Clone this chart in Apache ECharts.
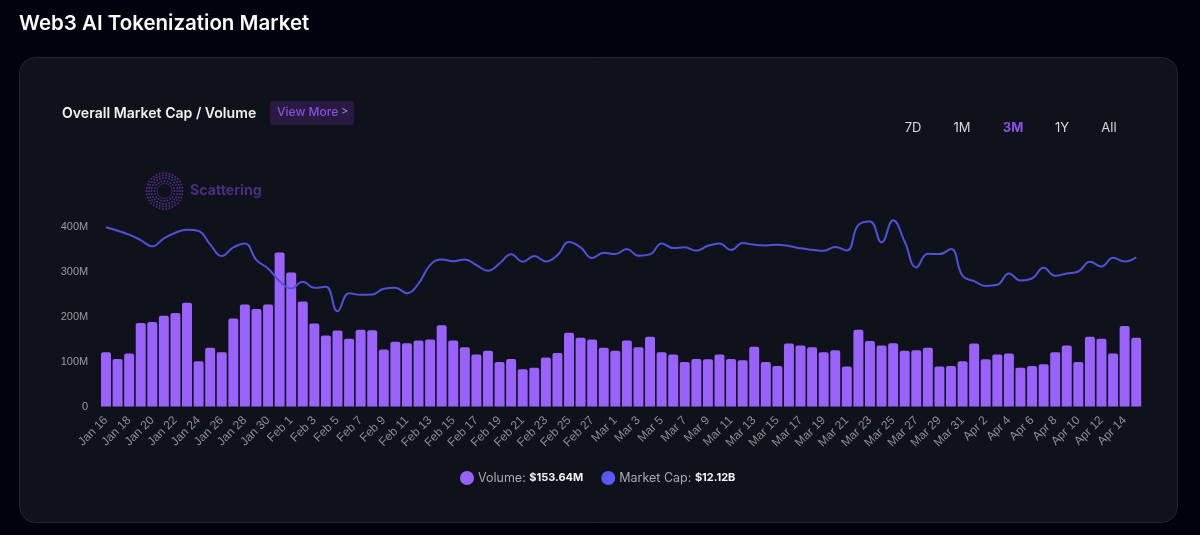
<!DOCTYPE html>
<html><head><meta charset="utf-8">
<style>html,body{margin:0;padding:0;background:#02020f}#c{width:1200px;height:535px}</style>
<script src="https://cdn.jsdelivr.net/npm/echarts@6/dist/echarts.min.js"></script>
</head><body><div id="c"></div>
<script>
const categories = ["Jan 16","Jan 17","Jan 18","Jan 19","Jan 20","Jan 21","Jan 22","Jan 23","Jan 24","Jan 25","Jan 26","Jan 27","Jan 28","Jan 29","Jan 30","Jan 31",
"Feb 1","Feb 2","Feb 3","Feb 4","Feb 5","Feb 6","Feb 7","Feb 8","Feb 9","Feb 10","Feb 11","Feb 12","Feb 13","Feb 14","Feb 15","Feb 16","Feb 17","Feb 18","Feb 19","Feb 20","Feb 21","Feb 22","Feb 23","Feb 24","Feb 25","Feb 26","Feb 27","Feb 28",
"Mar 1","Mar 2","Mar 3","Mar 4","Mar 5","Mar 6","Mar 7","Mar 8","Mar 9","Mar 10","Mar 11","Mar 12","Mar 13","Mar 14","Mar 15","Mar 16","Mar 17","Mar 18","Mar 19","Mar 20","Mar 21","Mar 22","Mar 23","Mar 24","Mar 25","Mar 26","Mar 27","Mar 28","Mar 29","Mar 30","Mar 31",
"Apr 1","Apr 2","Apr 3","Apr 4","Apr 5","Apr 6","Apr 7","Apr 8","Apr 9","Apr 10","Apr 11","Apr 12","Apr 13","Apr 14","Apr 15"];
// Volume in millions of USD
const volume = [121,106,118,186,188,202,208,231,101,131,121,196,227,217,227,343,
298,234,185,158,169,151,171,170,127,144,141,147,149,181,147,132,116,124,99,106,83,86,109,119,164,153,149,131,
124,147,132,155,121,116,99,106,105,116,106,103,133,99,90,140,136,132,121,125,89,171,146,136,141,124,125,131,89,90,101,
140,105,116,118,86,90,94,121,136,99,155,151,118,179,153];
// Market cap in billions of USD
const marketCap = [14.56,14.28,13.96,13.52,13.01,13.66,14.12,14.37,14.26,13.17,12.22,12.93,13.25,11.89,11.22,10.18,
9.59,10.13,9.64,9.72,7.74,9.21,9.07,9.10,9.56,9.64,9.21,9.99,11.49,11.95,11.81,11.95,11.49,11.03,11.62,12.36,11.76,12.22,11.79,12.30,13.36,12.93,12.06,12.49,
12.38,12.79,12.25,12.36,13.25,12.87,12.93,12.66,13.06,13.25,12.71,13.28,13.14,13.09,13.14,13.04,12.85,12.74,12.66,12.95,12.68,14.75,15.04,13.33,15.13,13.39,11.30,12.41,12.38,12.79,10.62,
10.18,9.80,9.89,10.81,10.24,10.40,11.27,10.62,10.81,10.97,11.76,11.38,12.08,11.79,12.12];
const volumeTicks = [0,100,200,300,400];
const rangeButtons = ["7D","1M","3M","1Y","All"];
const legendValues = {Volume:"$153.64M","Market Cap":"$12.12B"};

const FONT = "Inter, 'Noto Sans', sans-serif";
const graphics = [
 {type:'rect',z:-5,shape:{x:19.5,y:57.5,width:1158,height:465,r:16},style:{fill:'#10121b',stroke:'#25272f',lineWidth:1}},
 {type:'text',x:19,y:13,style:{text:'Web3 AI Tokenization Market',fill:'#fafafa',font:"600 20.5px "+FONT}},
 {type:'text',x:62,y:106.5,style:{text:'Overall Market Cap / Volume',fill:'#f0f0f0',font:"600 14.1px "+FONT}},
 {type:'rect',shape:{x:270,y:101,width:84,height:24,r:3},style:{fill:'#291a42'}},
 {type:'text',x:277,y:106.5,style:{text:'View More',fill:'#8a50e0',font:"500 12px "+FONT}},
 {type:'text',x:341,y:106.5,style:{text:'>',fill:'#a98ad8',font:"400 11px "+FONT}},
 {type:'text',x:190,y:184,style:{text:'Scattering',fill:'#4a2f80',font:"700 14.2px "+FONT}},
 {type:'circle',shape:{cx:164.5,cy:191,r:7.5},style:{fill:'none',stroke:'#4a2f80',lineWidth:0.8}}
];
const rangeX = [913,962,1013,1062,1109];
rangeButtons.forEach((t,i)=>graphics.push({type:'text',x:rangeX[i],y:128,style:{text:t,fill:t==='3M'?'#8a50e8':'#d8d8dc',align:'center',verticalAlign:'middle',font:(t==='3M'?'700 ':'400 ')+"13px "+FONT}}));
[[10,20],[13,26],[15.5,30],[18,34]].forEach(([r,n])=>{
  for(let k=0;k<n;k++){const a=k/n*Math.PI*2;
    graphics.push({type:'circle',shape:{cx:164.5+r*Math.cos(a),cy:191+r*Math.sin(a),r:1},style:{fill:'#4a2f80'}});}
});

const chart = echarts.init(document.getElementById('c'),null,{renderer:'canvas'});
chart.setOption({
 animation:false,
 backgroundColor:'transparent',
 graphic:graphics,
 grid:{left:100.2,right:58,top:226.8,height:179.7,containLabel:false},
 legend:{left:455,top:466,itemWidth:14,itemHeight:14,itemGap:18,icon:'circle',
   data:['Volume','Market Cap'],
   formatter:n=>`{l|${n}: }{v|${legendValues[n]}}`,
   textStyle:{rich:{l:{color:'#a8a8ae',fontSize:12.5,fontFamily:"Inter, 'Liberation Sans', sans-serif",padding:[0,0,0,-1]},
                    v:{color:'#f4f4f6',fontSize:11,fontWeight:700,fontFamily:FONT}}}},
 xAxis:{type:'category',data:categories,
   axisLine:{show:false},axisTick:{show:false},
   axisLabel:{interval:1,rotate:45,color:'#8d8d93',fontSize:12,fontFamily:"'Liberation Sans', sans-serif",margin:12}},
 yAxis:[
  {type:'value',min:volumeTicks[0],max:volumeTicks[volumeTicks.length-1],interval:100,splitLine:{show:false},
   axisLine:{show:false},axisTick:{show:false},
   axisLabel:{color:'#9a9aa0',fontSize:11,fontFamily:"'Liberation Sans', sans-serif",margin:12,formatter:v=>v===0?'0':v+'M'}},
  {type:'value',min:0,max:14.6,show:false,splitLine:{show:false}}
 ],
 series:[
  {name:'Volume',type:'bar',data:volume,barCategoryGap:'14%',itemStyle:{color:'#9963fb',borderRadius:[2,2,0,0]}},
  {name:'Market Cap',type:'line',yAxisIndex:1,data:marketCap,smooth:0.45,clip:false,showSymbol:false,symbol:'none',
   itemStyle:{color:'#5858f5'},lineStyle:{color:'#5050d8',width:2},z:5}
 ]
});
</script></body></html>
